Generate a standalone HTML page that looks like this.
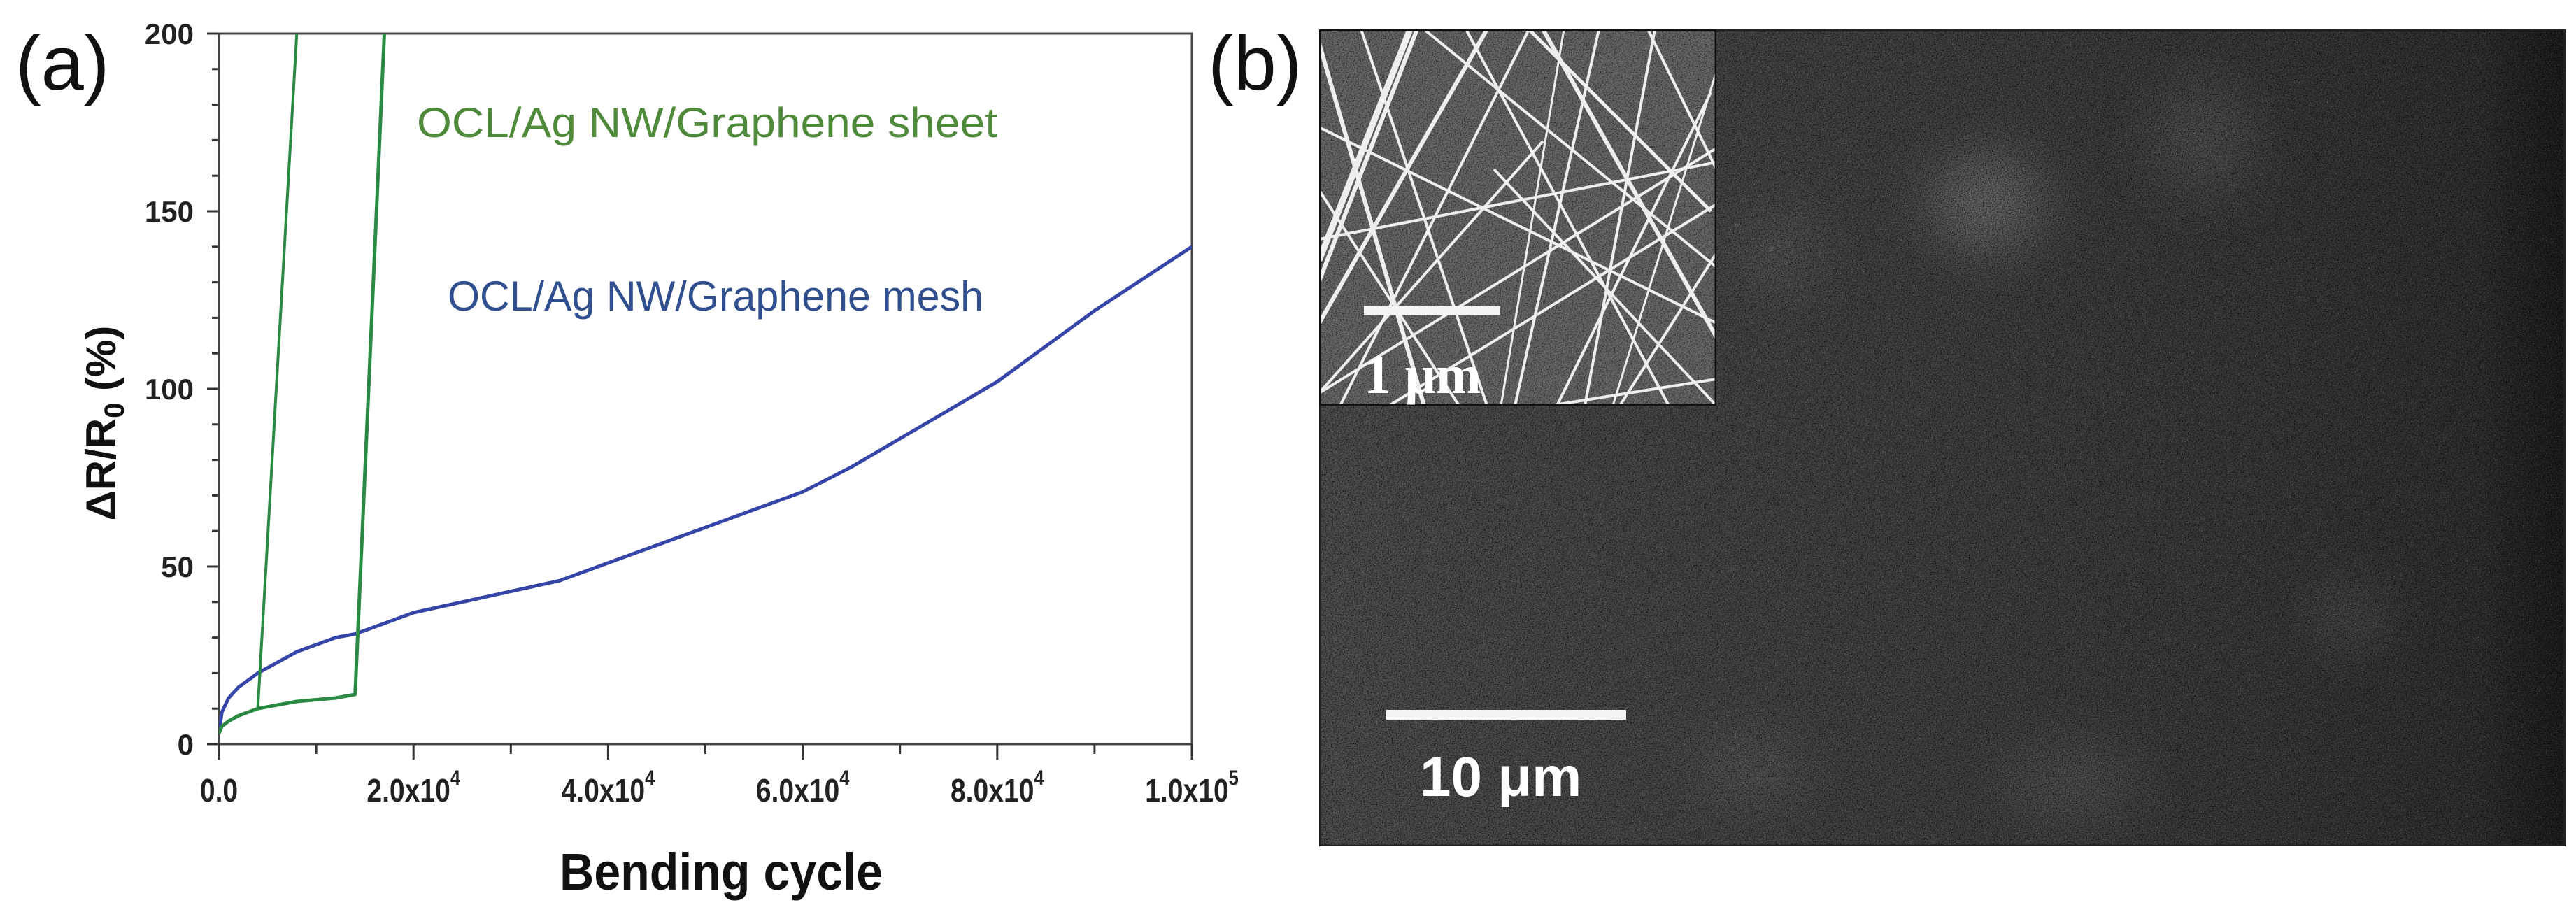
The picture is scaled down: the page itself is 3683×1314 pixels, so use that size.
<!DOCTYPE html>
<html><head><meta charset="utf-8"><style>
html,body{margin:0;padding:0;background:#fff;}
body{width:3683px;height:1314px;overflow:hidden;position:relative;font-family:"Liberation Sans",sans-serif;}
svg{position:absolute;left:0;top:0;}
</style></head><body>
<svg id="chart" width="3683" height="1314" viewBox="0 0 3683 1314">
 <defs>
  <filter id="grain" x="0" y="0" width="100%" height="100%">
   <feTurbulence type="fractalNoise" baseFrequency="0.6" numOctaves="2" seed="4" result="n"/>
   <feColorMatrix type="matrix" values="0 0 0 0 0  0 0 0 0 0  0 0 0 0 0  0 0 0 -3 1.7" in="n" result="dots"/>
   <feComposite in="dots" in2="SourceGraphic" operator="in"/>
  </filter>
  <filter id="grainW" x="0" y="0" width="100%" height="100%">
   <feTurbulence type="fractalNoise" baseFrequency="0.7" numOctaves="1" seed="9" result="n"/>
   <feColorMatrix type="matrix" values="0 0 0 0 1  0 0 0 0 1  0 0 0 0 1  0 0 0 3 -1.75" in="n"/>
  </filter>
  <filter id="blur40"><feGaussianBlur stdDeviation="40"/></filter>
  <linearGradient id="sembg" x1="0" y1="0" x2="1" y2="0">
   <stop offset="0" stop-color="#4e4e4e"/><stop offset="0.35" stop-color="#434343"/>
   <stop offset="0.75" stop-color="#383838"/><stop offset="0.93" stop-color="#2e2e2e"/><stop offset="1" stop-color="#1a1a1a"/>
  </linearGradient>
  <clipPath id="semclip"><rect x="1886" y="42" width="1782" height="1168"/></clipPath>
  <clipPath id="insclip"><rect x="1886" y="42" width="568" height="538"/></clipPath>
  <clipPath id="plotclip"><rect x="313" y="48" width="1391" height="1016"/></clipPath>
 </defs>
 <text x="22" y="128" font-size="110" fill="#111">(a)</text>
 <text x="1727" y="128" font-size="110" fill="#111">(b)</text>
 <g id="axes"></g>
 <g id="series" clip-path="url(#plotclip)"></g>
 <text x="596" y="196" font-size="60" fill="#4e8a3a" textLength="830" lengthAdjust="spacingAndGlyphs">OCL/Ag NW/Graphene sheet</text>
 <text x="640" y="444" font-size="60" fill="#2f4f8f" textLength="766" lengthAdjust="spacingAndGlyphs">OCL/Ag NW/Graphene mesh</text>
 <text x="800" y="1272" font-size="74" font-weight="bold" fill="#111" textLength="462" lengthAdjust="spacingAndGlyphs">Bending cycle</text>
 <text x="0" y="0" font-size="60" font-weight="bold" fill="#111" text-anchor="middle" transform="translate(165 605) rotate(-90)">ΔR/R<tspan font-size="40" dy="12">0</tspan><tspan dy="-12"> (%)</tspan></text>

 <g clip-path="url(#semclip)">
  <rect x="1886" y="42" width="1782" height="1168" fill="url(#sembg)"/>
  <g filter="url(#blur40)" fill="#666" opacity="0.45">
   <ellipse cx="2840" cy="290" rx="80" ry="70" fill="#999"/>
   <ellipse cx="2540" cy="360" rx="60" ry="60"/>
   <ellipse cx="3150" cy="200" rx="70" ry="80"/>
   <ellipse cx="2500" cy="1100" rx="80" ry="50"/>
   <ellipse cx="2960" cy="1120" rx="100" ry="50"/>
   <ellipse cx="3360" cy="880" rx="50" ry="50"/>
  </g>
  <rect x="1886" y="42" width="1782" height="1168" fill="#161616" filter="url(#grain)" opacity="0.7"/>
  <rect x="1886" y="42" width="1782" height="1168" filter="url(#grainW)" opacity="0.35"/>
  <rect x="1886" y="42" width="1782" height="1168" fill="none" stroke="#222" stroke-width="5"/>
 </g>
 <g clip-path="url(#insclip)">
  <rect x="1886" y="42" width="568" height="538" fill="#6a6a6a"/>
  <rect x="1886" y="42" width="568" height="538" fill="#222" filter="url(#grain)" opacity="0.6"/>
  <g id="wires" stroke="#eee" fill="none"></g>
  <rect x="1886" y="42" width="568" height="538" fill="none" stroke="#111" stroke-width="5"/>
 </g>
 <line x1="1950" y1="444" x2="2145" y2="444" stroke="#f4f4f4" stroke-width="13"/>
 <text x="1950" y="562" font-size="78" fill="#fff" font-family="Liberation Serif, serif" font-weight="bold">1 μm</text>
 <line x1="1982" y1="1022" x2="2325" y2="1022" stroke="#f4f4f4" stroke-width="14"/>
 <text x="2030" y="1138" font-size="80" fill="#fff" font-weight="bold">10 μm</text>
</svg>
<script>
const xTicks=[0,20000,40000,60000,80000,100000];
const xTickLabels=['0.0','2.0x10','4.0x10','6.0x10','8.0x10','1.0x10'];
const xTickExps=['','4','4','4','4','5'];
const yTicks=[0,50,100,150,200];
const meshX=[0,300,1000,2000,3000,4000,6000,8000,10000,12000,14000,16000,18000,20000,25000,30000,35000,40000,45000,50000,55000,60000,65000,70000,75000,80000,85000,90000,95000,100000];
const meshY=[3,9,13,16,18,20,23,26,28,30,31,33,35,37,40,43,46,51,56,61,66,71,78,86,94,102,112,122,131,140];
const sheetX=[0,300,1000,2000,3000,4000,6000,8000,10000,12000,14000,14000,17000];
const sheetY=[3,5,6.5,8,9,10,11,12,12.5,13,14,14,200];
const sheet2X=[4000,8000];
const sheet2Y=[10,200];
const L=313,R=1704,T=48,B=1064;
const sx=v=>L+(v-0)/(100000)*(R-L);
const sy=v=>B-(v/200)*(B-T);
const NS='http://www.w3.org/2000/svg';
const ax=document.getElementById('axes');
function mk(tag,attrs,parent){const e=document.createElementNS(NS,tag);for(const k in attrs)e.setAttribute(k,attrs[k]);parent.appendChild(e);return e;}
let fr=mk('rect',{x:L,y:T,width:R-L,height:B-T,fill:'none',stroke:'#444','stroke-width':3},ax);


for(let v=0;v<=100000;v+=10000){
 const major=v%20000===0;
 const t=mk('line',{x1:sx(v),x2:sx(v),y1:B,y2:B+(major?22:14),stroke:'#333','stroke-width':3},ax);
 
 
}
xTicks.forEach((v,i)=>{
 const t=mk('text',{x:0,y:0,'font-size':46,'font-weight':'bold',fill:'#222','text-anchor':'middle',transform:`translate(${sx(v)} ${B+82}) scale(0.85 1)`},ax);
 t.textContent=xTickLabels[i];
 if(xTickExps[i]){const s=mk('tspan',{'font-size':30,dy:-24},t);s.textContent=xTickExps[i];}
 
 
});
for(let v=0;v<=200;v+=10){
 const major=v%50===0;
 const t=mk('line',{x1:L,x2:L-(major?17:10),y1:sy(v),y2:sy(v),stroke:'#333','stroke-width':3},ax);
 
 
}
yTicks.forEach(v=>{
 const t=mk('text',{x:0,y:0,'font-size':42,'font-weight':'bold',fill:'#222','text-anchor':'end',transform:`translate(${L-36} ${sy(v)+15})`},ax);
 t.textContent=v;
 
 
});
const sg=document.getElementById('series');
function line(xs,ys,color,name,w){
 const d=xs.map((x,i)=>(i?'L':'M')+sx(x).toFixed(1)+' '+sy(ys[i]).toFixed(1)).join(' ');
 const p=mk('path',{d:d,fill:'none',stroke:color,'stroke-width':w,'stroke-linejoin':'round'},sg);
 
 
}
line(meshX,meshY,'#3646a8','mesh-series',5);
line(sheetX,sheetY,'#2a8a44','sheet-series',5);
line(sheet2X,sheet2Y,'#2a8a44','sheet-series-branch',4);
// decorative nanowires in inset (not data)
const wires=[[0,20,150,538,6],[130,0,0,330,9],[140,0,0,360,6],[240,0,0,420,6],[60,0,240,538,4],[300,0,560,260,5],[320,0,568,440,6],[210,0,500,538,4],[400,0,280,538,4],[480,0,380,538,4],[568,170,0,520,4],[0,140,568,420,4],[0,300,568,190,4],[100,538,568,250,4],[560,90,340,538,4],[0,520,320,160,4],[150,0,568,340,4],[30,538,300,0,4],[568,500,330,538,4],[430,538,568,320,4],[250,200,568,538,4],[470,0,568,200,4],[0,230,200,538,4],[350,0,260,538,3],[568,60,420,538,3]];
const wg=document.getElementById('wires');
wires.forEach(w=>{const l=mk('line',{x1:1886+w[0],y1:42+w[1],x2:1886+w[2],y2:42+w[3],'stroke-width':w[4]},wg);
 
 });
</script>
</body></html>
